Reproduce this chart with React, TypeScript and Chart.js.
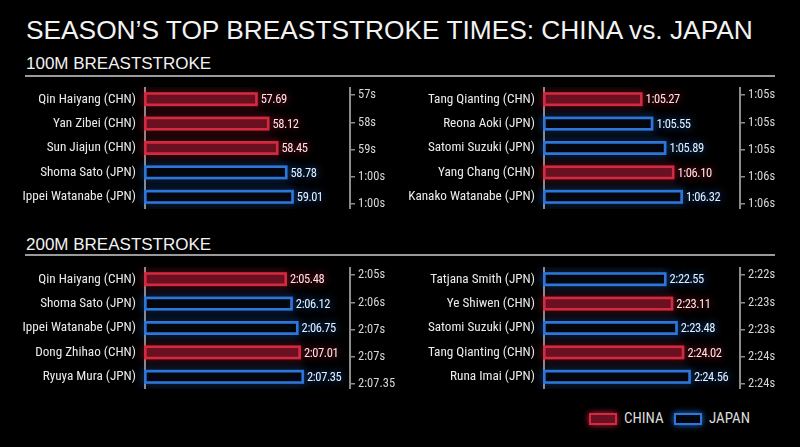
import { useEffect, useRef } from "react"
import { Chart, registerables } from "chart.js"

Chart.register(...registerables)

const NARROW = "'Roboto Condensed', 'Liberation Sans Narrow', 'DejaVu Sans Condensed', sans-serif"

// 100m men
const men100Names = ["Qin Haiyang (CHN)", "Yan Zibei (CHN)", "Sun Jiajun (CHN)", "Shoma Sato (JPN)", "Ippei Watanabe (JPN)"]
const men100Times = [57.69, 58.12, 58.45, 58.78, 59.01]
const men100Teams = ["CHN", "CHN", "CHN", "JPN", "JPN"]
const men100Ticks = ["57s", "58s", "59s", "1:00s", "1:00s"]

// 100m women
const women100Names = ["Tang Qianting (CHN)", "Reona Aoki (JPN)", "Satomi Suzuki (JPN)", "Yang Chang (CHN)", "Kanako Watanabe (JPN)"]
const women100Times = [65.27, 65.55, 65.89, 66.1, 66.32]
const women100Teams = ["CHN", "JPN", "JPN", "CHN", "JPN"]
const women100Ticks = ["1:05s", "1:05s", "1:05s", "1:06s", "1:06s"]

// 200m men
const men200Names = ["Qin Haiyang (CHN)", "Shoma Sato (JPN)", "Ippei Watanabe (JPN)", "Dong Zhihao (CHN)", "Ryuya Mura (JPN)"]
const men200Times = [125.48, 126.12, 126.75, 127.01, 127.35]
const men200Teams = ["CHN", "JPN", "JPN", "CHN", "JPN"]
const men200Ticks = ["2:05s", "2:06s", "2:07s", "2:07s", "2:07.35"]

// 200m women
const women200Names = ["Tatjana Smith (JPN)", "Ye Shiwen (CHN)", "Satomi Suzuki (JPN)", "Tang Qianting (CHN)", "Runa Imai (JPN)"]
const women200Times = [142.55, 143.11, 143.48, 144.02, 144.56]
const women200Teams = ["JPN", "CHN", "JPN", "CHN", "JPN"]
const women200Ticks = ["2:22s", "2:23s", "2:23s", "2:24s", "2:24s"]

const CHN = { fill: "#6b1020", border: "#d32a42", glow: "rgba(235,45,70,0.85)", text: "#ffe0e3" }
const JPN = { fill: "#03060d", border: "#2f76da", glow: "rgba(45,135,255,0.85)", text: "#e2f0ff" }

function fmtTime(t: number) {
  if (t < 60) return t.toFixed(2)
  const m = Math.floor(t / 60)
  const s = (t - m * 60).toFixed(2).padStart(5, "0")
  return `${m}:${s}`
}

// glow behind each bar and the glowing time label after it
const glowPlugin = {
  id: "glow",
  beforeDatasetsDraw(chart: any) {
    const ctx = chart.ctx
    chart.data.datasets.forEach((ds: any, di: number) => {
      const style = di === 0 ? CHN : JPN
      chart.getDatasetMeta(di).data.forEach((bar: any, i: number) => {
        if (ds.data[i] == null) return
        const { x, y, base, height } = bar.getProps(["x", "y", "base", "height"], true)
        ctx.save()
        ctx.shadowColor = style.glow
        ctx.shadowBlur = 9
        ctx.strokeStyle = style.border
        ctx.lineWidth = 2
        ctx.strokeRect(base, y - height / 2, x - base, height)
        ctx.restore()
      })
    })
  },
  afterDatasetsDraw(chart: any) {
    const ctx = chart.ctx
    chart.data.datasets.forEach((ds: any, di: number) => {
      const style = di === 0 ? CHN : JPN
      chart.getDatasetMeta(di).data.forEach((bar: any, i: number) => {
        const v = ds.data[i]
        if (v == null) return
        const { x, y } = bar.getProps(["x", "y"], true)
        const label = fmtTime(v)
        ctx.save()
        ctx.font = `12.5px ${NARROW}`
        ctx.letterSpacing = "-0.4px"
        ctx.textBaseline = "middle"
        ctx.textAlign = "left"
        ctx.shadowColor = style.glow
        ctx.shadowBlur = 8
        ctx.fillStyle = style.text
        ctx.fillText(label, x + 4, y + 1)
        ctx.restore()
      })
    })
  },
}

interface PanelProps {
  names: string[]
  times: number[]
  teams: string[]
  ticks: string[]
  min: number
  max: number
  leftWidth: number
  rightWidth: number
  left: number
  top: number
}

function Panel({ names, times, teams, ticks, min, max, leftWidth, rightWidth, left, top }: PanelProps) {
  const canvasRef = useRef<HTMLCanvasElement>(null)

  useEffect(() => {
    if (!canvasRef.current) return
    const axisColor = "#8c8c8c"
    // the right-hand ruler is spread a little wider than the rows
    const rulerMin = -0.3
    const rulerMax = ticks.length - 0.82
    const chart = new Chart(canvasRef.current, {
      type: "bar",
      data: {
        labels: names,
        datasets: [
          {
            label: "CHINA",
            data: times.map((t, i) => (teams[i] === "CHN" ? t : null)),
            backgroundColor: CHN.fill,
            borderColor: CHN.border,
          },
          {
            label: "JAPAN",
            data: times.map((t, i) => (teams[i] === "JPN" ? t : null)),
            backgroundColor: JPN.fill,
            borderColor: JPN.border,
          },
        ] as any,
      },
      options: {
        indexAxis: "y",
        responsive: true,
        maintainAspectRatio: false,
        animation: false,
        layout: { padding: 0 },
        datasets: {
          bar: {
            grouped: false,
            base: min,
            barThickness: 12,
            borderWidth: 2,
            borderSkipped: false,
          },
        },
        plugins: {
          legend: { display: false },
          tooltip: { enabled: false },
        },
        scales: {
          x: { type: "linear", display: false, min, max },
          y: {
            type: "category",
            position: "left",
            grid: { display: false, drawTicks: false },
            border: { display: true, color: axisColor, width: 2 },
            ticks: { color: "#ececec", font: { family: NARROW, size: 13.2 }, padding: 9 },
            afterFit: (s: any) => {
              s.width = leftWidth
              s.paddingTop = 0
              s.paddingBottom = 0
            },
          },
          y2: {
            type: "linear",
            position: "right",
            reverse: true,
            offset: false,
            min: rulerMin,
            max: rulerMax,
            afterBuildTicks: (s: any) => {
              s.ticks = ticks.map((_, i) => ({ value: i }))
            },
            grid: { drawOnChartArea: false, drawTicks: true, offset: false, tickLength: 5, color: axisColor, lineWidth: 1.5 },
            border: { display: true, color: axisColor, width: 2 },
            ticks: {
              color: "#d6d6d6",
              font: { family: NARROW, size: 12.5 },
              padding: 3,
              autoSkip: false,
              callback: (_v: any, i: number) => ticks[i],
            },
            afterFit: (s: any) => {
              s.width = rightWidth
              s.paddingTop = 0
              s.paddingBottom = 0
            },
          },
        },
      } as any,
      plugins: [glowPlugin],
    })
    return () => chart.destroy()
  }, [names, times, teams, ticks, min, max, leftWidth, rightWidth])

  return (
    <div style={{ position: "absolute", left, top, width: 400, height: 122 }}>
      <canvas ref={canvasRef} />
    </div>
  )
}

const heading = { position: "absolute" as const, left: 26, color: "#f2f2f2", fontFamily: "'Liberation Sans', Arial, sans-serif", margin: 0, whiteSpace: "nowrap" as const }
const rule = { position: "absolute" as const, left: 25, width: 750, height: 2, background: "#9a9a9a" }
const legendText = { position: "absolute" as const, top: 410, color: "#dcdcdc", fontFamily: NARROW, fontSize: 15, lineHeight: "17px" }

export default function App() {
  return (
    <div style={{ position: "relative", width: 800, height: 447, background: "#000", overflow: "hidden" }}>
      <style>{`body{margin:0;background:#000}`}</style>
      <div style={{ ...heading, top: 17, fontSize: 26.3, lineHeight: "26px" }}>
        SEASON’S TOP BREASTSTROKE TIMES: CHINA vs. JAPAN
      </div>
      <div style={{ ...heading, top: 54.6, fontSize: 17, lineHeight: "17px" }}>100M BREASTSTROKE</div>
      <div style={{ ...rule, top: 75 }} />
      <div style={{ ...heading, top: 235.6, fontSize: 17, lineHeight: "17px" }}>200M BREASTSTROKE</div>
      <div style={{ ...rule, top: 254 }} />

      <Panel names={men100Names} times={men100Times} teams={men100Teams} ticks={men100Ticks}
        min={53.6} max={61.1} leftWidth={145} rightWidth={50} left={0} top={87} />
      <Panel names={women100Names} times={women100Times} teams={women100Teams} ticks={women100Ticks}
        min={62.73} max={67.83} leftWidth={144} rightWidth={60} left={400} top={87} />
      <Panel names={men200Names} times={men200Times} teams={men200Teams} ticks={men200Ticks}
        min={110} max={132.5} leftWidth={145} rightWidth={50} left={0} top={267} />
      <Panel names={women200Names} times={women200Times} teams={women200Teams} ticks={women200Ticks}
        min={132.5} max={148.7} leftWidth={144} rightWidth={60} left={400} top={267} />

      <div style={{ position: "absolute", left: 589, top: 413, width: 24, height: 8, background: CHN.fill, border: `2px solid ${CHN.border}`, boxShadow: `0 0 6px ${CHN.glow}` }} />
      <div style={{ ...legendText, left: 624 }}>CHINA</div>
      <div style={{ position: "absolute", left: 674, top: 413, width: 24, height: 8, background: JPN.fill, border: `2px solid ${JPN.border}`, boxShadow: `0 0 6px ${JPN.glow}` }} />
      <div style={{ ...legendText, left: 709 }}>JAPAN</div>
    </div>
  )
}
